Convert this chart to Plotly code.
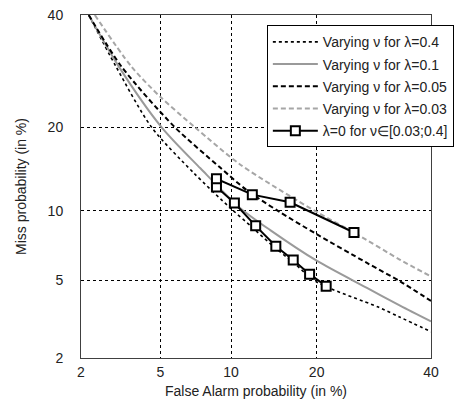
from statistics import NormalDist
import plotly.graph_objects as go

# ---- data (percent) ----
tick_vals_pct = [2, 5, 10, 20, 40]
tick_text = ["2", "5", "10", "20", "40"]

fa_l04 = [2.2, 3.05, 4.54, 7.0, 10.0, 12.0, 14.0, 17.0, 20.0, 30.0, 34.0, 40.0]
miss_l04 = [40.0, 30.0, 20.0, 14.0, 10.2, 8.6, 7.3, 5.95, 4.9, 3.7, 3.29, 2.77]

fa_l01 = [2.2, 3.15, 5.05, 7.5, 10.8, 14.0, 20.0, 28.0, 34.0, 40.0]
miss_l01 = [40.0, 30.0, 20.0, 14.5, 10.3, 8.34, 6.14, 4.59, 3.76, 3.13]

fa_l005 = [2.2, 3.25, 5.8, 9.0, 11.5, 15.0, 20.0, 28.0, 34.0, 40.0]
miss_l005 = [40.0, 30.0, 20.0, 14.65, 12.03, 9.95, 8.02, 6.0, 4.93, 3.97]

fa_l003 = [2.37, 3.64, 5.0, 7.1, 10.8, 20.0, 25.8, 34.0, 40.0]
miss_l003 = [40.0, 30.0, 24.7, 20.0, 15.0, 9.9, 8.15, 6.2, 5.2]

fa_l0 = [21.4, 19.0, 16.8, 14.65, 12.4, 10.3, 8.74, 8.74, 12.05, 16.4, 25.8]
miss_l0 = [4.68, 5.33, 6.18, 7.12, 8.69, 10.75, 12.39, 13.28, 11.58, 10.82, 8.15]

nd = NormalDist()


def probit(values):
    return [nd.inv_cdf(v / 100.0) for v in values]


fig = go.Figure()

font_family = "Arial, 'Liberation Sans', sans-serif"
FS = 14

series = [
    ("Varying \u03bd for \u03bb=0.4", fa_l04, miss_l04, dict(color="black", width=1.6, dash="dot")),
    ("Varying \u03bd for \u03bb=0.1", fa_l01, miss_l01, dict(color="#9a9a9a", width=2)),
    ("Varying \u03bd for \u03bb=0.05", fa_l005, miss_l005, dict(color="black", width=2, dash="5px,3px")),
    ("Varying \u03bd for \u03bb=0.03", fa_l003, miss_l003, dict(color="#a6a6a6", width=2, dash="5px,3px")),
]

for i, (name, fx, my, line) in enumerate(series):
    line = dict(line)
    line["shape"] = "spline"
    line["smoothing"] = 0.8
    fig.add_trace(go.Scatter(
        x=probit(fx), y=probit(my), mode="lines", name=name, line=line,
        legendgroup=f"g{i}", hoverinfo="skip",
    ))

fig.add_trace(go.Scatter(
    x=probit(fa_l0), y=probit(miss_l0), mode="lines+markers",
    name="\u03bb=0 for \u03bd\u2208[0.03;0.4]",
    line=dict(color="black", width=2),
    marker=dict(symbol="square", size=9, color="white", line=dict(color="black", width=2)),
    legendgroup="g4", hoverinfo="skip",
))

rng = [nd.inv_cdf(0.02), nd.inv_cdf(0.40)]
tv = probit(tick_vals_pct)

axis_common = dict(
    range=rng, tickvals=tv, ticktext=tick_text,
    showgrid=True, gridcolor="black", gridwidth=1, griddash="3px,3px",
    zeroline=False, showline=True, mirror=True, linecolor="#404040", linewidth=1,
    ticks="outside", tickcolor="rgba(0,0,0,0)", ticklabeloverflow="allow",
    tickfont=dict(family=font_family, size=FS, color="#222"),
    title_font=dict(family=font_family, size=FS, color="#222"),
)

fig.update_xaxes(**axis_common, ticklen=1, title_text="False Alarm probability (in %)", title_standoff=7)
fig.update_yaxes(**axis_common, ticklen=14, title_text="Miss probability (in %)", title_standoff=17)

fig.update_layout(
    width=462, height=406,
    margin=dict(l=81, r=31, t=7, b=48),
    paper_bgcolor="white", plot_bgcolor="white",
    showlegend=True,
    legend=dict(
        x=0.531, y=0.970, xanchor="left", yanchor="top",
        bgcolor="white", bordercolor="black", borderwidth=1,
        font=dict(family=font_family, size=FS, color="#222"),
        tracegroupgap=1, traceorder="grouped", itemwidth=45,
    ),
    font=dict(family=font_family, size=FS, color="#222"),
)

fig.write_html(
    "out.html",
    config={"displayModeBar": False},
    post_script="document.body.style.margin='0';document.body.style.overflow='hidden';",
)
